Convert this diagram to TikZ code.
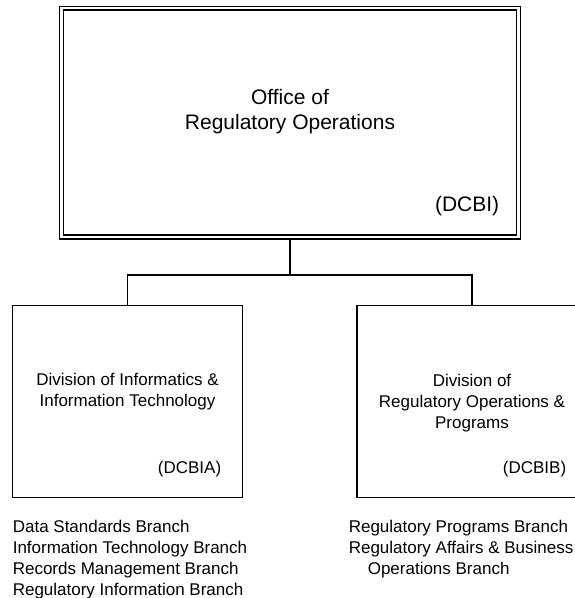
\documentclass[tikz,border=0pt]{standalone}
\usepackage{fontspec}
\setmainfont{Liberation Sans}
\usetikzlibrary{positioning}

\begin{document}
\begin{tikzpicture}[
        x=1pt, y=-1pt,
        line width=1.6pt,
        office/.style={draw, double, double distance=2.3pt, outer sep=2.75pt, inner sep=0pt, minimum width=457pt, minimum height=228.5pt},
        division/.style={draw, inner sep=0pt, minimum width=230pt, minimum height=192pt},
        title/.style={align=center, inner sep=0pt, font=\fontsize{21}{25}\selectfont},
        divtitle/.style={align=center, inner sep=0pt, font=\fontsize{17}{21}\selectfont},
        code/.style={anchor=east, inner sep=0pt},
        branches/.style={anchor=north west, align=left, inner sep=0pt, font=\fontsize{17}{21}\selectfont}
    ]
        \useasboundingbox (0,0) rectangle (575,598);

        % boxes
        \node[office] (ore) at (290,122.5) {};
        \node[division] (dciit) at (127.5,401.4) {};
        \node[division] (droop) at (472,401.4) {};

        % box texts
        \node[title] (oretitle) at (290,111.5) {Office of\\Regulatory Operations};
        \node[code, font=\fontsize{21}{25}\selectfont] (orecode) at (500,206) {(DCBI)};
        \node[divtitle] (dciittitle) at (127.5,392) {Division of Informatics \&\\Information Technology};
        \node[code, font=\fontsize{17}{21}\selectfont] (dciitcode) at (222,469) {(DCBIA)};
        \node[divtitle] (drooptitle) at (472,402.6) {Division of\\Regulatory Operations \&\\Programs};
        \node[code, font=\fontsize{17}{21}\selectfont] (droopcode) at (567,469) {(DCBIB)};

        % branches under each division
        \node[branches] (dciitlist) at (12,519) {Data Standards Branch\\Information Technology Branch\\Records Management Branch\\Regulatory Information Branch};
        \node[branches] (drooplist) at (348,519) {Regulatory Programs Branch\\Regulatory Affairs \& Business\\\hspace*{19pt}Operations Branch};

        % reporting lines
        \coordinate (bus) at (290,275);
        \draw (ore.south) -- (bus);
        \draw (dciit.north) -- (dciit.north |- bus) -- (droop.north |- bus) -- (droop.north);
    \end{tikzpicture}
\end{document}
